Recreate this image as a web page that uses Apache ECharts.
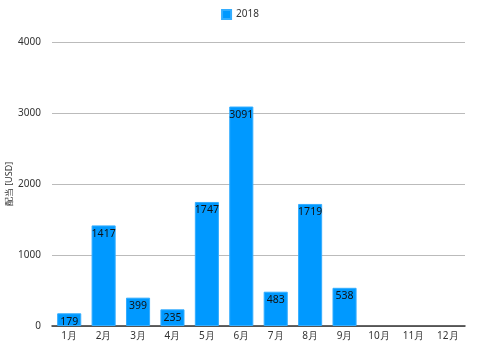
<!DOCTYPE html>
<html><head><meta charset="utf-8">
<script src="https://cdn.jsdelivr.net/npm/echarts@6/dist/echarts.min.js"></script>
<style>html,body{margin:0;padding:0;background:#fff}#c{width:480px;height:347px}</style>
</head><body><div id="c"></div>
<script>
const categories = ['1月','2月','3月','4月','5月','6月','7月','8月','9月','10月','11月','12月'];
const values2018 = [179,1417,399,235,1747,3091,483,1719,538,null,null,null];
const seriesName = '2018';
const yTicks = [0,1000,2000,3000,4000];
const chart = echarts.init(document.getElementById('c'));
chart.setOption({
  animation:false,
  textStyle:{fontFamily:'Noto Sans'},
  legend:{top:4,left:'center',itemWidth:9,itemHeight:9,itemGap:6,icon:'rect',
    textStyle:{fontSize:10,color:'#333'},data:[seriesName]},
  grid:{left:52,right:15,top:42,bottom:21,containLabel:false,outerBoundsMode:'none'},
  xAxis:{type:'category',data:categories,
    axisLine:{lineStyle:{color:'#333',width:1.5}},axisTick:{show:false},
    axisLabel:{fontSize:10,color:'#333',margin:5}},
  yAxis:{type:'value',min:yTicks[0],max:yTicks[yTicks.length-1],interval:1000,
    name:'配当 [USD]',nameLocation:'middle',nameGap:38,nameRotate:90,nameMoveOverlap:false,
    nameTextStyle:{fontSize:9,color:'#333'},
    axisLine:{show:false},axisTick:{show:false},
    axisLabel:{fontSize:10,color:'#333',margin:11,formatter:v=>String(v)},
    splitLine:{lineStyle:{color:'#bbb',width:1}}},
  series:[{name:seriesName,type:'bar',data:values2018,barWidth:'70%',
    itemStyle:{color:'#0099ff',borderColor:'#33adff',borderWidth:1,borderRadius:0},
    label:{show:true,position:'insideTop',distance:3,fontSize:10.5,color:'#111'}}]
});
</script></body></html>
